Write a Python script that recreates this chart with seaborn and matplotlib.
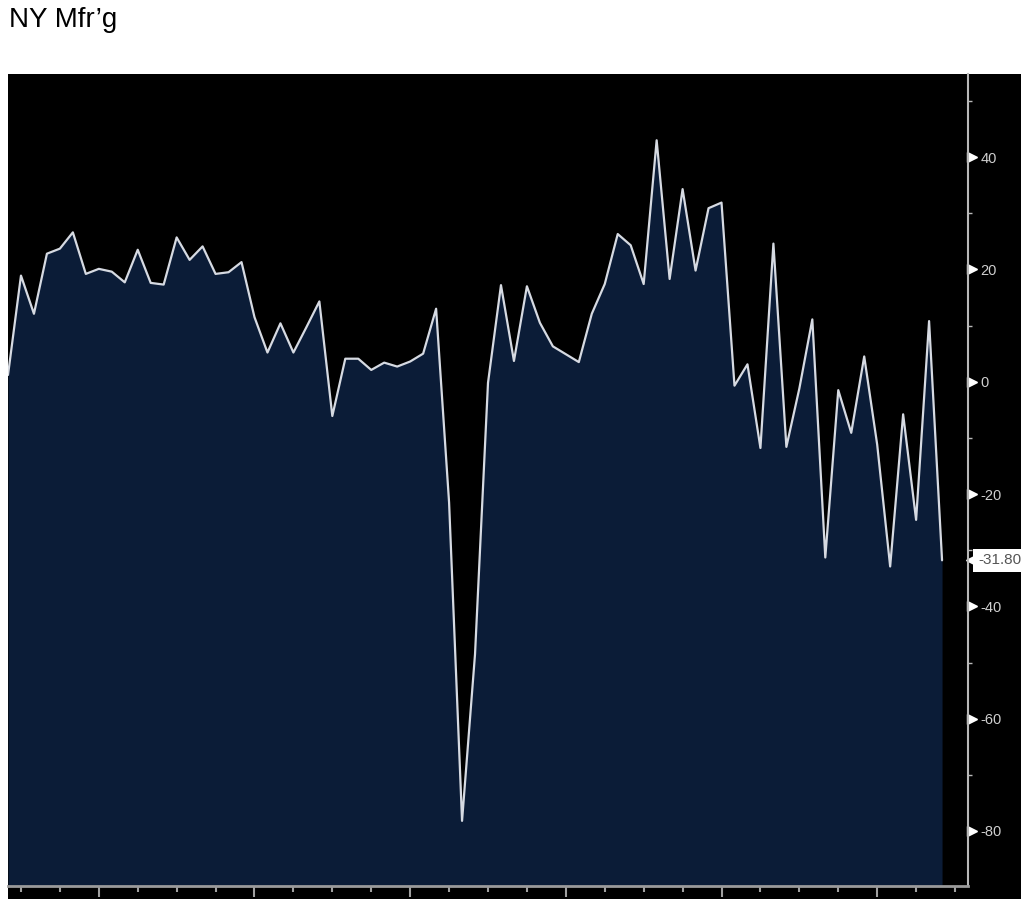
import matplotlib.pyplot as plt
import matplotlib.patches as mpatches
import matplotlib.transforms as mtransforms
import numpy as np
import pandas as pd
import seaborn as sns

# Empire State (NY) manufacturing index, monthly, May 2017 - May 2023
months = pd.period_range("2017-05", periods=73, freq="M")
values = [1.2, 18.9, 12.1, 22.8, 23.7, 26.6, 19.2, 20.1, 19.6, 17.7,
          23.5, 17.6, 17.3, 25.7, 21.7, 24.1, 19.2, 19.5, 21.3, 11.5,
          5.2, 10.4, 5.2, 9.7, 14.3, -6.1, 4.1, 4.1, 2.1, 3.4,
          2.7, 3.6, 5.0, 13.0, -21.5, -78.2, -48.5, -0.2, 17.2, 3.7,
          17.0, 10.5, 6.3, 4.9, 3.5, 12.1, 17.4, 26.3, 24.3, 17.4,
          43.0, 18.3, 34.3, 19.8, 30.9, 31.9, -0.7, 3.1, -11.8, 24.6,
          -11.6, -1.2, 11.1, -31.3, -1.5, -9.1, 4.5, -11.2, -32.9, -5.8,
          -24.6, 10.8, -31.8]
title = "NY Mfr\u2019g"
last_label = "-31.80"
y_major = [-80, -60, -40, -20, 0, 20, 40]
y_minor = [-70, -50, -30, -10, 10, 30, 50]

df = pd.DataFrame({"t": np.arange(len(values)), "value": values})

# x ticks: year ends (major), quarter ends (minor)
all_months = pd.period_range("2017-05", periods=75, freq="M")
major_x = [i for i, p in enumerate(all_months) if p.month == 12]
minor_x = [i for i, p in enumerate(all_months) if p.month in (3, 6, 9)]

sns.set_style("dark")
plt.rcParams["font.family"] = ["Liberation Sans", "DejaVu Sans"]
plt.rcParams["axes.unicode_minus"] = False

W, H = 1024, 899
fig = plt.figure(figsize=(W / 100, H / 100), dpi=100, facecolor="white")
fig.patches.append(mpatches.Rectangle((8 / W, 0), (1021 - 8) / W, (H - 74) / H,
                                      transform=fig.transFigure, facecolor="black",
                                      edgecolor="none", zorder=-1))
ax = fig.add_axes([8 / W, (H - 886) / H, (968 - 8) / W, (886 - 74) / H])
ax.set_facecolor("black")

ylo, yhi = -89.8, 54.8
ax.fill_between(df["t"], df["value"], ylo, color="#0b1c37", linewidth=0)
sns.lineplot(data=df, x="t", y="value", ax=ax, color="#d6dae2", linewidth=1.6)

ax.set_xlim(0, 74)
ax.set_ylim(ylo, yhi)
ax.grid(False)
ax.set_xlabel("")
ax.set_ylabel("")

for s in ("left", "top"):
    ax.spines[s].set_visible(False)
ax.spines["bottom"].set_color("#9a9a9a")
ax.spines["bottom"].set_linewidth(2)
ax.spines["right"].set_color("#b8b8b8")
ax.spines["right"].set_linewidth(1.5)

ax.set_xticks(major_x)
ax.set_xticks(minor_x, minor=True)
ax.set_xticklabels([])
ax.tick_params(axis="x", which="major", direction="out", length=8, width=1.5,
               color="#a0a0a0", bottom=True)
ax.tick_params(axis="x", which="minor", direction="out", length=4, width=1.5,
               color="#a0a0a0", bottom=True)

ax.yaxis.tick_right()
ax.set_yticks(y_major)
ax.set_yticks(y_minor, minor=True)
ax.set_yticklabels([str(v) for v in y_major])
ax.tick_params(axis="y", which="major", direction="out", length=0, pad=9,
               labelsize=10.5, labelcolor="#cfcfcf", right=True, left=False)
ax.tick_params(axis="y", which="minor", direction="out", length=3, width=1,
               color="#b8b8b8", right=True, left=False)

# triangle tick markers on the right axis
tri = mtransforms.offset_copy(ax.get_yaxis_transform(), fig=fig, x=4, y=0, units="dots")
ax.plot([1] * len(y_major), y_major, linestyle="none", marker=">", markersize=7,
        color="white", transform=tri, clip_on=False)

# last value tag
tip = mtransforms.offset_copy(ax.get_yaxis_transform(), fig=fig, x=7, y=0, units="dots")
ax.plot([1], [values[-1]], linestyle="none", marker="<", markersize=13,
        color="white", transform=tip, clip_on=False)
lab = mtransforms.offset_copy(ax.get_yaxis_transform(), fig=fig, x=10, y=0, units="dots")
ax.text(1, values[-1], last_label, transform=lab, ha="left", va="center",
        fontsize=11, color="#555555", clip_on=False,
        bbox=dict(boxstyle="square,pad=0.3", facecolor="white", edgecolor="none"))

fig.text(9 / W, 1 - 27 / H, title, ha="left", va="baseline", fontsize=20, color="black")

fig.savefig("out.png", dpi=100, facecolor="white")
